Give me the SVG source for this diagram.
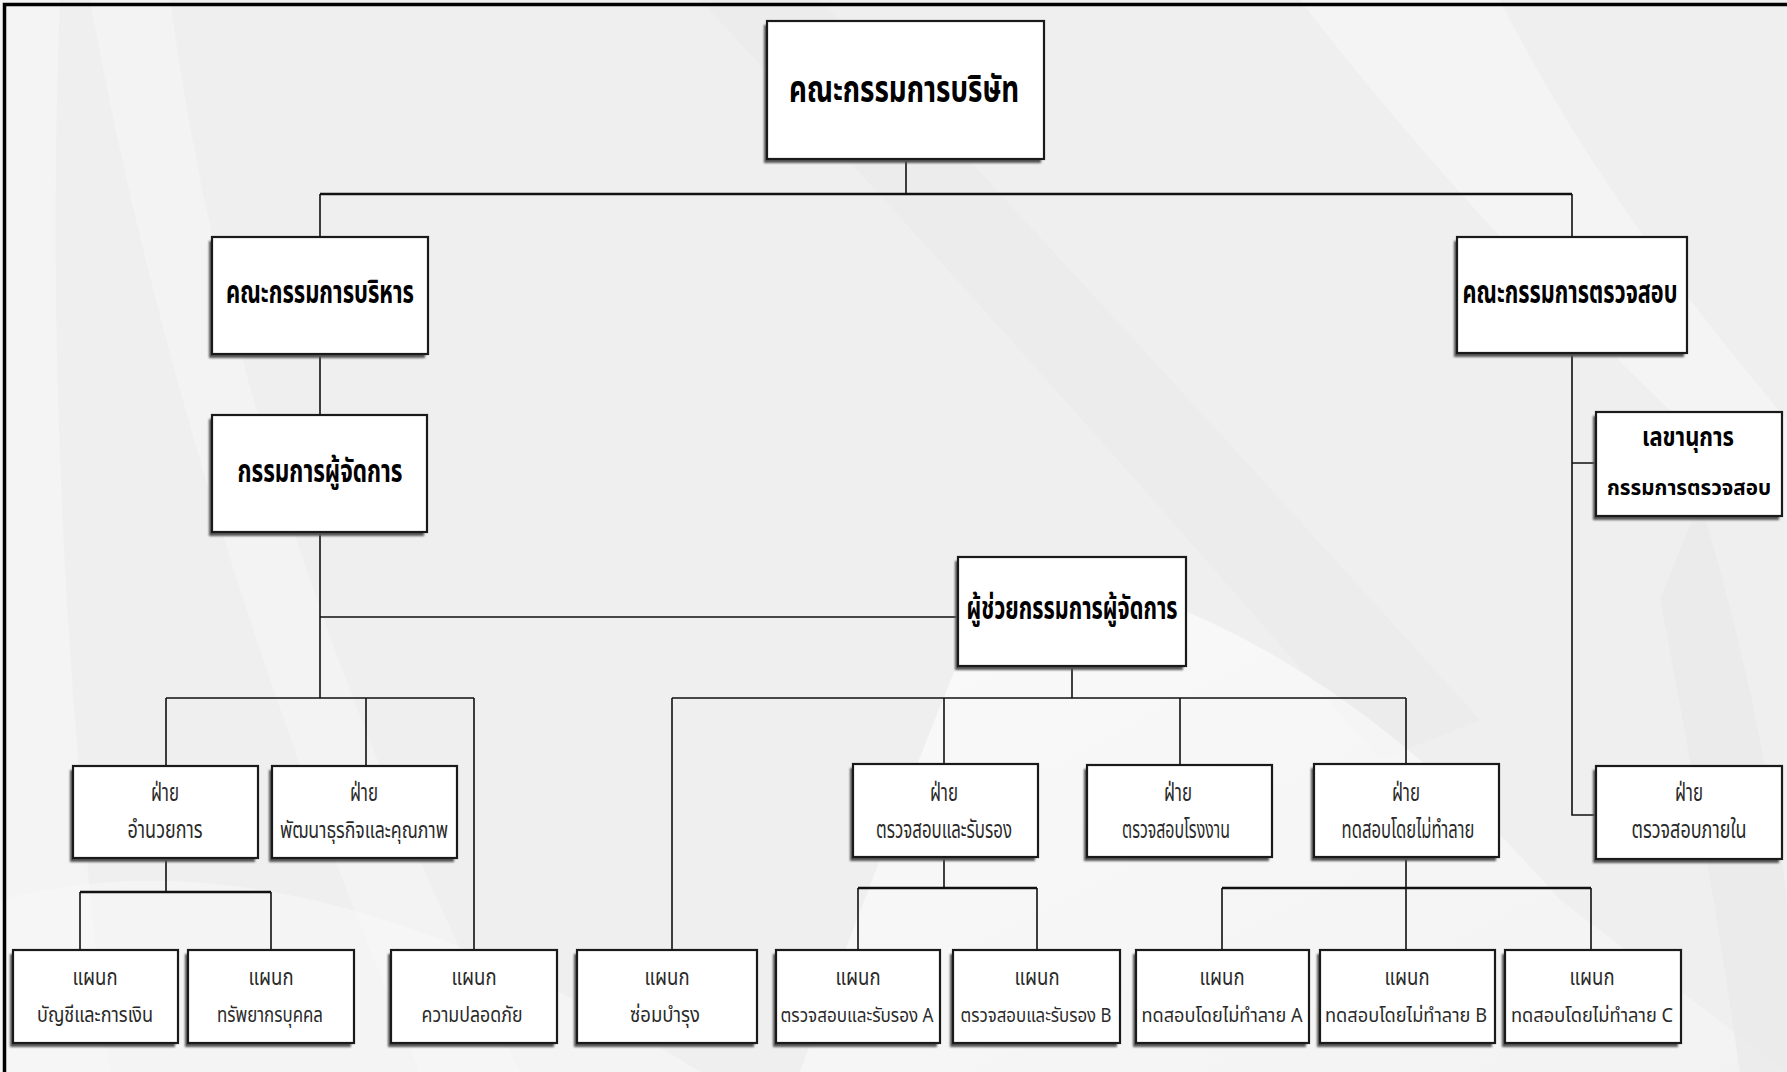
<svg xmlns="http://www.w3.org/2000/svg" width="1787" height="1072" viewBox="0 0 1787 1072">
<defs>
<filter id="sh" x="-10%" y="-10%" width="120%" height="130%"><feGaussianBlur stdDeviation="1"/></filter>
<linearGradient id="g1" x1="0" y1="0" x2="1" y2="1"><stop offset="0" stop-color="#ffffff" stop-opacity="0.7"/><stop offset="1" stop-color="#ffffff" stop-opacity="0.2"/></linearGradient>
</defs>
<style>
.bx{fill:#ffffff;stroke:#1a1a1a;stroke-width:2.2}
.sd{fill:#555;filter:url(#sh)}
.cn{fill:none;stroke:#111;stroke-width:1.6}
.th{stroke-width:2.6}
.t1{font-family:"Noto Sans Thai","Noto Sans","DejaVu Sans",sans-serif;font-weight:bold;fill:#000;text-anchor:middle}
.t2{font-family:"Noto Sans Thai","Noto Sans","DejaVu Sans",sans-serif;font-weight:normal;fill:#2a2a2a;text-anchor:middle}
</style>
<rect x="0" y="0" width="1787" height="1072" fill="#efefef"/>
<g id="background">
<path d="M0 0 L60 0 Q40 500 110 1072 L0 1072 Z" fill="#f4f4f4"/>
<path d="M90 0 Q180 500 420 1072 L520 1072 Q240 520 170 0 Z" fill="#f3f3f3"/>
<path d="M700 0 L820 0 Q1100 300 1480 720 L1380 760 Q1000 320 700 0 Z" fill="#eaeaea" opacity="0.6"/>
<path d="M1000 560 Q1300 600 1560 900 L1787 1072 L800 1072 Q900 800 1000 560 Z" fill="url(#g1)"/>
<path d="M1700 500 Q1760 700 1787 900 L1787 1072 L1740 1072 Q1700 800 1660 600 Z" fill="#e8e8e8" opacity="0.6"/>
<path d="M0 900 Q300 820 700 1072 L0 1072 Z" fill="#f6f6f6" opacity="0.7"/>
<path d="M1300 0 L1500 0 Q1600 200 1787 420 L1787 520 Q1500 260 1300 0 Z" fill="#f4f4f4"/>
</g>
<path d="M4.5 1072 V4.5 H1787" fill="none" stroke="#000" stroke-width="3.5"/>
<g id="connectors">
<path class="cn" d="M906 159 V194"/>
<path class="cn th" d="M320 194 H1572"/>
<path class="cn" d="M320 194 V237 M1572 194 V237"/>
<path class="cn" d="M320 354 V415"/>
<path class="cn" d="M320 532 V698 M320 617 H958"/>
<path class="cn" d="M166 698 H474 M166 698 V766 M366 698 V766 M474 698 V950"/>
<path class="cn" d="M166 858 V892 M80 892 V950 M271 892 V950"/>
<path class="cn th" d="M80 892 H271"/>
<path class="cn" d="M1072 666 V698 M672 698 H1406 M672 698 V950 M944 698 V764 M1180 698 V765 M1406 698 V764"/>
<path class="cn" d="M944 857 V888 M858 888 V950 M1037 888 V950"/>
<path class="cn th" d="M858 888 H1037"/>
<path class="cn" d="M1406 857 V950 M1222 888 V950 M1591 888 V950"/>
<path class="cn th" d="M1222 888 H1591"/>
<path class="cn" d="M1572 353 V815 H1596 M1572 463 H1596"/>
</g>
<g id="n-board"><rect class="sd" x="764" y="25" width="277" height="138"/><rect class="bx" x="767" y="21" width="277" height="138"/><text class="t1" x="904" y="102" font-size="38" textLength="230" lengthAdjust="spacingAndGlyphs">คณะกรรมการบริษัท</text></g>
<g id="n-exec"><rect class="sd" x="209" y="241" width="216" height="117"/><rect class="bx" x="212" y="237" width="216" height="117"/><text class="t1" x="320" y="303" font-size="31" textLength="188" lengthAdjust="spacingAndGlyphs">คณะกรรมการบริหาร</text></g>
<g id="n-audit"><rect class="sd" x="1454" y="241" width="230" height="116"/><rect class="bx" x="1457" y="237" width="230" height="116"/><text class="t1" x="1570" y="303" font-size="31" textLength="215" lengthAdjust="spacingAndGlyphs">คณะกรรมการตรวจสอบ</text></g>
<g id="n-md"><rect class="sd" x="209" y="419" width="215" height="117"/><rect class="bx" x="212" y="415" width="215" height="117"/><text class="t1" x="320" y="482" font-size="31" textLength="165" lengthAdjust="spacingAndGlyphs">กรรมการผู้จัดการ</text></g>
<g id="n-asst"><rect class="sd" x="955" y="561" width="228" height="109"/><rect class="bx" x="958" y="557" width="228" height="109"/><text class="t1" x="1072" y="619" font-size="31" textLength="211" lengthAdjust="spacingAndGlyphs">ผู้ช่วยกรรมการผู้จัดการ</text></g>
<g id="n-sec"><rect class="sd" x="1593" y="416" width="186" height="104"/><rect class="bx" x="1596" y="412" width="186" height="104"/><text class="t1" x="1688" y="446" font-size="26" textLength="92" lengthAdjust="spacingAndGlyphs">เลขานุการ</text><text class="t1" x="1689" y="495" font-size="22" textLength="164" lengthAdjust="spacingAndGlyphs">กรรมการตรวจสอบ</text></g>
<g id="n-admin"><rect class="sd" x="70" y="770" width="185" height="92"/><rect class="bx" x="73" y="766" width="185" height="92"/><text class="t2" x="165" y="801" font-size="24" textLength="28" lengthAdjust="spacingAndGlyphs">ฝ่าย</text><text class="t2" x="165" y="838" font-size="24" textLength="75" lengthAdjust="spacingAndGlyphs">อำนวยการ</text></g>
<g id="n-bizdev"><rect class="sd" x="269" y="770" width="185" height="92"/><rect class="bx" x="272" y="766" width="185" height="92"/><text class="t2" x="364" y="801" font-size="24" textLength="28" lengthAdjust="spacingAndGlyphs">ฝ่าย</text><text class="t2" x="364" y="838" font-size="23" textLength="168" lengthAdjust="spacingAndGlyphs">พัฒนาธุรกิจและคุณภาพ</text></g>
<g id="n-qa"><rect class="sd" x="850" y="768" width="185" height="93"/><rect class="bx" x="853" y="764" width="185" height="93"/><text class="t2" x="944" y="801" font-size="24" textLength="28" lengthAdjust="spacingAndGlyphs">ฝ่าย</text><text class="t2" x="944" y="838" font-size="24" textLength="136" lengthAdjust="spacingAndGlyphs">ตรวจสอบและรับรอง</text></g>
<g id="n-factory"><rect class="sd" x="1084" y="769" width="185" height="92"/><rect class="bx" x="1087" y="765" width="185" height="92"/><text class="t2" x="1178" y="801" font-size="24" textLength="28" lengthAdjust="spacingAndGlyphs">ฝ่าย</text><text class="t2" x="1176" y="838" font-size="24" textLength="108" lengthAdjust="spacingAndGlyphs">ตรวจสอบโรงงาน</text></g>
<g id="n-ndt"><rect class="sd" x="1311" y="768" width="185" height="93"/><rect class="bx" x="1314" y="764" width="185" height="93"/><text class="t2" x="1406" y="801" font-size="24" textLength="28" lengthAdjust="spacingAndGlyphs">ฝ่าย</text><text class="t2" x="1408" y="838" font-size="24" textLength="133" lengthAdjust="spacingAndGlyphs">ทดสอบโดยไม่ทำลาย</text></g>
<g id="n-internal"><rect class="sd" x="1593" y="770" width="186" height="93"/><rect class="bx" x="1596" y="766" width="186" height="93"/><text class="t2" x="1689" y="801" font-size="24" textLength="28" lengthAdjust="spacingAndGlyphs">ฝ่าย</text><text class="t2" x="1689" y="838" font-size="24" textLength="115" lengthAdjust="spacingAndGlyphs">ตรวจสอบภายใน</text></g>
<g id="n-acct"><rect class="sd" x="10" y="954" width="165" height="93"/><rect class="bx" x="13" y="950" width="165" height="93"/><text class="t2" x="95" y="985" font-size="23" textLength="45" lengthAdjust="spacingAndGlyphs">แผนก</text><text class="t2" x="95" y="1022" font-size="22" textLength="116" lengthAdjust="spacingAndGlyphs">บัญชีและการเงิน</text></g>
<g id="n-hr"><rect class="sd" x="185" y="954" width="166" height="93"/><rect class="bx" x="188" y="950" width="166" height="93"/><text class="t2" x="271" y="985" font-size="23" textLength="45" lengthAdjust="spacingAndGlyphs">แผนก</text><text class="t2" x="270" y="1022" font-size="22" textLength="106" lengthAdjust="spacingAndGlyphs">ทรัพยากรบุคคล</text></g>
<g id="n-safety"><rect class="sd" x="388" y="954" width="166" height="93"/><rect class="bx" x="391" y="950" width="166" height="93"/><text class="t2" x="474" y="985" font-size="23" textLength="45" lengthAdjust="spacingAndGlyphs">แผนก</text><text class="t2" x="472" y="1022" font-size="22" textLength="101" lengthAdjust="spacingAndGlyphs">ความปลอดภัย</text></g>
<g id="n-maint"><rect class="sd" x="574" y="954" width="180" height="93"/><rect class="bx" x="577" y="950" width="180" height="93"/><text class="t2" x="667" y="985" font-size="23" textLength="45" lengthAdjust="spacingAndGlyphs">แผนก</text><text class="t2" x="665" y="1022" font-size="22" textLength="70" lengthAdjust="spacingAndGlyphs">ซ่อมบำรุง</text></g>
<g id="n-qaA"><rect class="sd" x="773" y="954" width="164" height="93"/><rect class="bx" x="776" y="950" width="164" height="93"/><text class="t2" x="858" y="985" font-size="23" textLength="45" lengthAdjust="spacingAndGlyphs">แผนก</text><text class="t2" x="857" y="1022" font-size="20" textLength="153" lengthAdjust="spacingAndGlyphs">ตรวจสอบและรับรอง A</text></g>
<g id="n-qaB"><rect class="sd" x="950" y="954" width="167" height="93"/><rect class="bx" x="953" y="950" width="167" height="93"/><text class="t2" x="1037" y="985" font-size="23" textLength="45" lengthAdjust="spacingAndGlyphs">แผนก</text><text class="t2" x="1036" y="1022" font-size="20" textLength="151" lengthAdjust="spacingAndGlyphs">ตรวจสอบและรับรอง B</text></g>
<g id="n-ndtA"><rect class="sd" x="1133" y="954" width="173" height="93"/><rect class="bx" x="1136" y="950" width="173" height="93"/><text class="t2" x="1222" y="985" font-size="23" textLength="45" lengthAdjust="spacingAndGlyphs">แผนก</text><text class="t2" x="1222" y="1022" font-size="20" textLength="161" lengthAdjust="spacingAndGlyphs">ทดสอบโดยไม่ทำลาย A</text></g>
<g id="n-ndtB"><rect class="sd" x="1317" y="954" width="175" height="93"/><rect class="bx" x="1320" y="950" width="175" height="93"/><text class="t2" x="1407" y="985" font-size="23" textLength="45" lengthAdjust="spacingAndGlyphs">แผนก</text><text class="t2" x="1406" y="1022" font-size="20" textLength="162" lengthAdjust="spacingAndGlyphs">ทดสอบโดยไม่ทำลาย B</text></g>
<g id="n-ndtC"><rect class="sd" x="1502" y="954" width="176" height="93"/><rect class="bx" x="1505" y="950" width="176" height="93"/><text class="t2" x="1592" y="985" font-size="23" textLength="45" lengthAdjust="spacingAndGlyphs">แผนก</text><text class="t2" x="1592" y="1022" font-size="20" textLength="162" lengthAdjust="spacingAndGlyphs">ทดสอบโดยไม่ทำลาย C</text></g>
</svg>
